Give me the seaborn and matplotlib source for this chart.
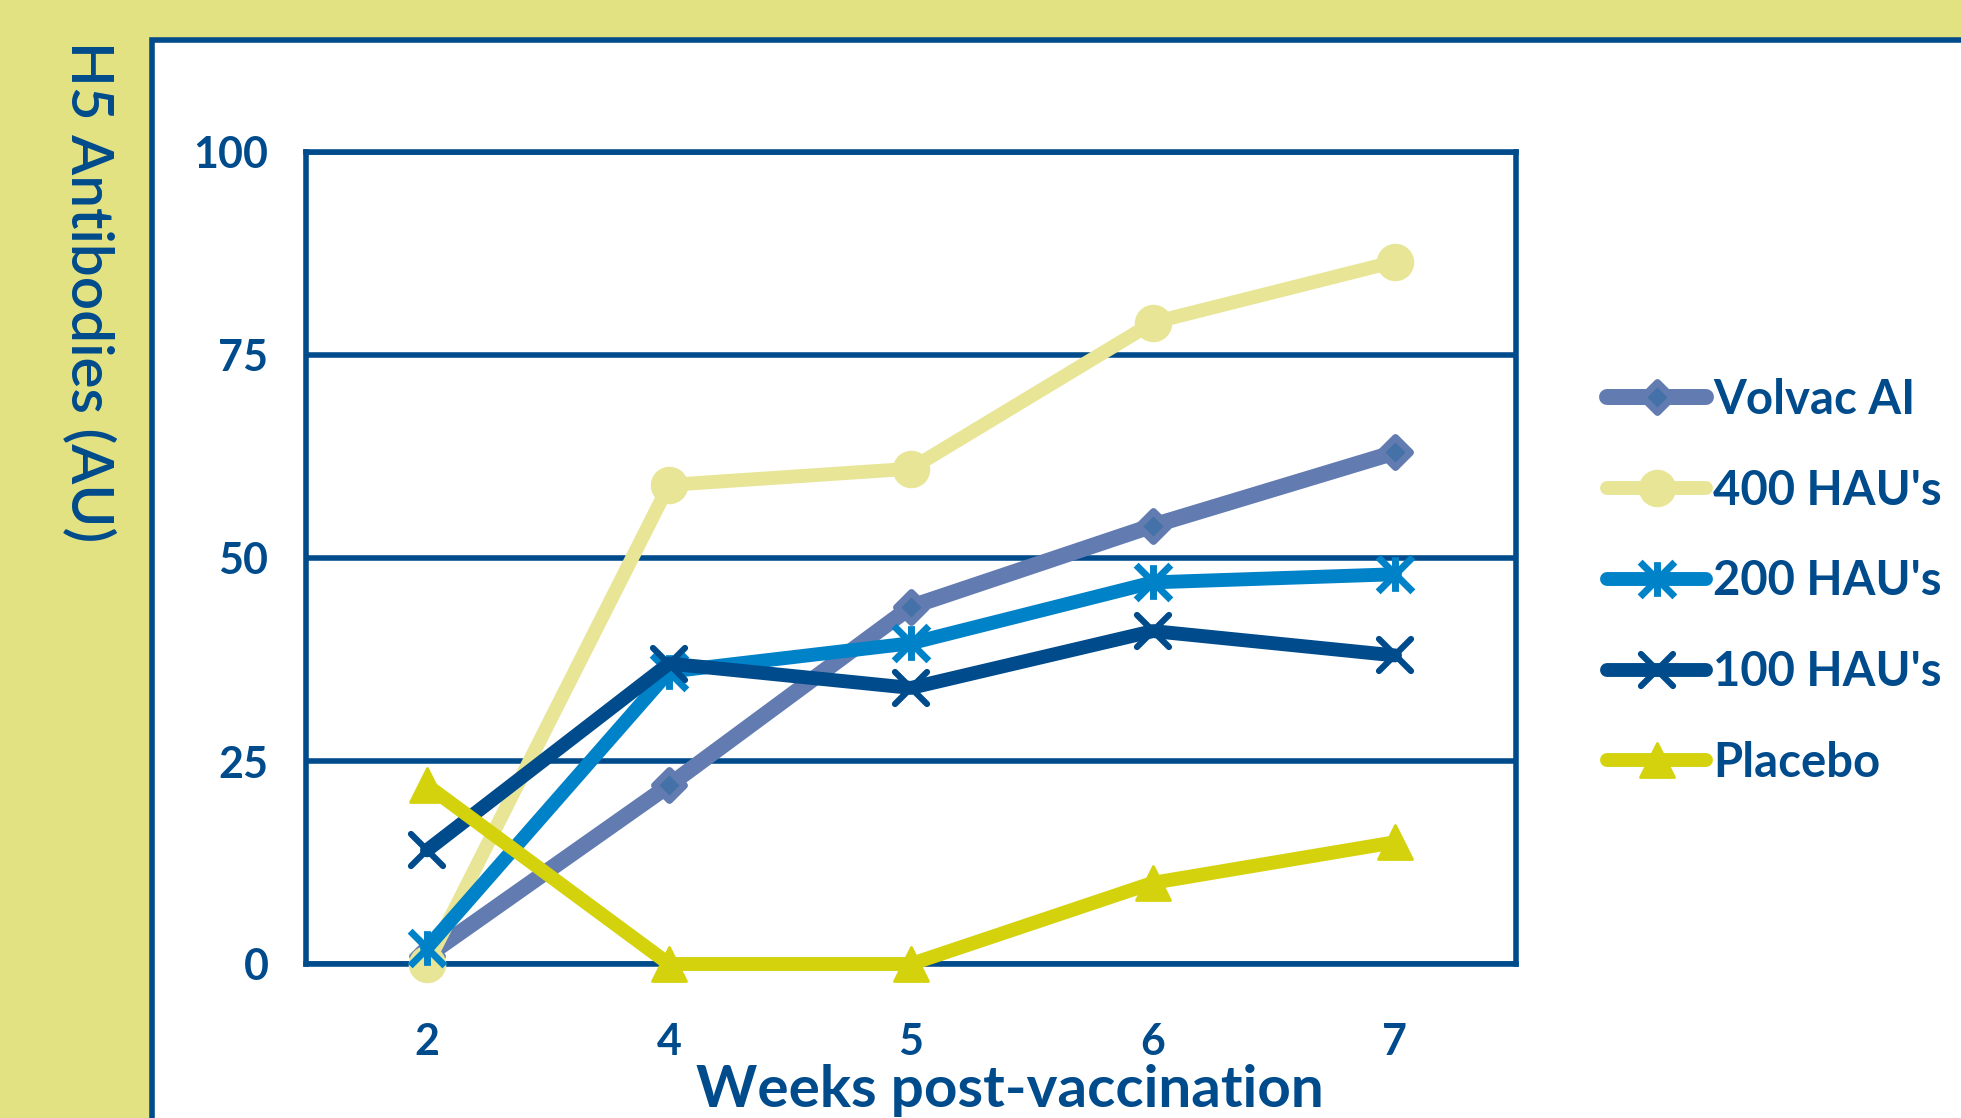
import numpy as np
import pandas as pd
import seaborn as sns
import matplotlib
matplotlib.use("Agg")
import matplotlib.pyplot as plt
from matplotlib.path import Path
from matplotlib.patches import Rectangle
from matplotlib.markers import MarkerStyle

# ---- data -------------------------------------------------------------
weeks = ["2", "4", "5", "6", "7"]
series_names = ["Volvac AI", "400 HAU's", "200 HAU's", "100 HAU's", "Placebo"]
volvac_ai = [1, 22, 44, 54, 63]
hau_400 = [0, 59, 61, 79, 86.5]
hau_200 = [2, 36, 39.5, 47, 48]
hau_100 = [14, 37, 34, 41, 38]
placebo = [22, 0, 0, 10, 15]
y_ticks = [0, 25, 50, 75, 100]

values = [volvac_ai, hau_400, hau_200, hau_100, placebo]
df = pd.DataFrame({
    "week": weeks * len(series_names),
    "value": np.concatenate(values),
    "series": np.repeat(series_names, len(weeks)),
})

# ---- style ------------------------------------------------------------
NAVY = "#004b8c"
BAND = "#e3e283"
sns.set_theme(style="white")
plt.rcParams["font.family"] = ["Lato", "DejaVu Sans"]

# six-armed asterisk: vertical stroke plus an X
asterisk = Path(
    [(0, -1), (0, 1), (-1, -1), (1, 1), (-1, 1), (1, -1)],
    [Path.MOVETO, Path.LINETO, Path.MOVETO, Path.LINETO, Path.MOVETO, Path.LINETO],
)

styles = {
    "Volvac AI": dict(color="#627bb0", lw=11.5, marker=MarkerStyle("D", joinstyle="round"),
                      ms=15, mfc="#4472a8", mec="#627bb0", mew=5),
    "400 HAU's": dict(color="#e8e696", lw=10, marker="o", ms=27,
                      mfc="#e8e696", mec="#e8e696", mew=0),
    "200 HAU's": dict(color="#0082c8", lw=10, marker=MarkerStyle(asterisk, capstyle="butt"),
                      ms=25, mfc="none", mec="#0082c8", mew=5),
    "100 HAU's": dict(color=NAVY, lw=10, marker=MarkerStyle("x", capstyle="round"),
                      ms=23, mfc="none", mec=NAVY, mew=4.5),
    "Placebo": dict(color="#d4d20d", lw=10, marker=MarkerStyle("^", joinstyle="round"),
                    ms=24, mfc="#d4d20d", mec="#d4d20d", mew=2),
}

fig = plt.figure(figsize=(19.61, 11.18), dpi=100, facecolor=BAND)

# white panel with a navy edge along its top and left
panel = Rectangle((151.5 / 1961, -0.05), 1.0, 1 - 40 / 1118 + 0.05,
                  transform=fig.transFigure, facecolor="white", edgecolor=NAVY,
                  linewidth=4, zorder=-5)
fig.patches.append(panel)

ax = fig.add_axes([306 / 1961, 1 - 964 / 1118, (1516 - 306) / 1961, (964 - 152) / 1118])
ax.set_zorder(2)
ax.set_facecolor("white")

for name in series_names:
    st = styles[name]
    sub = df[df["series"] == name]
    sns.lineplot(data=sub, x="week", y="value", ax=ax, color=st["color"],
                 linewidth=st["lw"], marker=st["marker"], markersize=st["ms"],
                 markerfacecolor=st["mfc"], markeredgecolor=st["mec"],
                 markeredgewidth=st["mew"], sort=False, legend=False,
                 solid_capstyle="round", solid_joinstyle="round",
                 clip_on=False, zorder=3, label=name)

ax.set_xlim(-0.5, 4.5)
ax.set_ylim(0, 100)
tick_font = {"fontweight": "bold", "fontsize": 31, "color": NAVY}
ax.set_yticks(y_ticks, labels=[str(t) for t in y_ticks], **tick_font)
ax.set_xticks(range(len(weeks)), labels=weeks, **tick_font)
ax.set_xlabel("")
ax.set_ylabel("")
ax.grid(axis="y", color=NAVY, linewidth=4, zorder=1)
ax.grid(axis="x", visible=False)
for sp in ax.spines.values():
    sp.set_color(NAVY)
    sp.set_linewidth(4)
    sp.set_visible(True)
    sp.set_zorder(2)

ax.tick_params(axis="both", length=0)
ax.tick_params(axis="y", pad=27)
ax.tick_params(axis="x", pad=42)

fig.text(1010 / 1961, 1 - 1064 / 1118, "Weeks post-vaccination", color=NAVY,
         fontsize=42, fontweight="bold", ha="center", va="top")
fig.text(88 / 1961, 1 - 292 / 1118, "H5 Antibodies (AU)", color=NAVY,
         fontsize=42, fontweight="semibold", rotation=-90, ha="center", va="center")

handles = ax.get_lines()[: len(series_names)]
fig.legend(handles, series_names, loc="center left", bbox_to_anchor=(0.8195, 0.480),
           frameon=False, handlelength=2.1, handletextpad=0.15, labelspacing=0.99,
           borderaxespad=0, borderpad=0, labelcolor=NAVY,
           prop={"family": "Lato", "weight": "bold", "size": 34})

fig.savefig("out.png", dpi=100, facecolor=BAND)
